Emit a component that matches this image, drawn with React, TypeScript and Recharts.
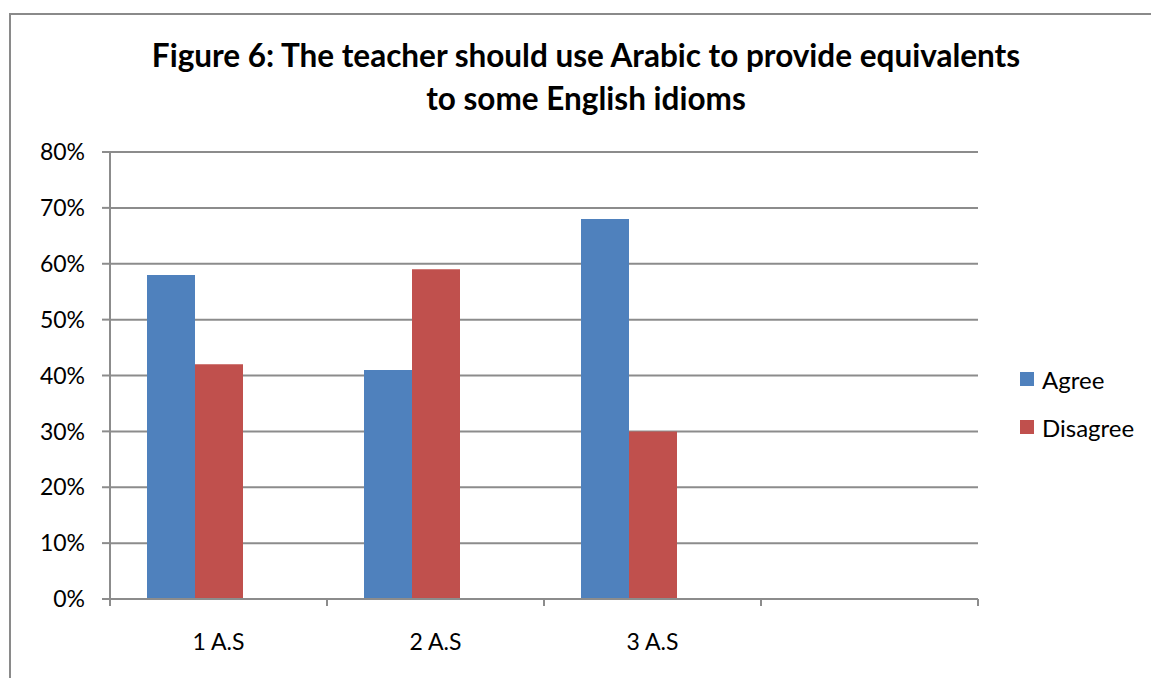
import React from 'react';
import { BarChart, Bar, XAxis, YAxis, CartesianGrid } from 'recharts';

// Chart values (percent)
const categories = ['1 A.S', '2 A.S', '3 A.S', ''];
const agree = [58, 41, 68, null];
const disagree = [42, 59, 30, null];
// third (empty) series keeps the original bar spacing
const blank = [null, null, null, null];
const yTicks = [0, 10, 20, 30, 40, 50, 60, 70, 80];

const seriesNames = ['Agree', 'Disagree'];
const seriesColors = ['#4f81bd', '#c0504d'];

const W = 1151;
const H = 678;
const PLOT_LEFT = 110;
const PLOT_RIGHT = 978;
const PLOT_TOP = 152;
const PLOT_BOTTOM = 599;
const HALF_BAND = (PLOT_RIGHT - PLOT_LEFT) / categories.length / 2;

const FONT = 'Lato, "Open Sans", sans-serif';
const GRID = '#8c8c8c';

const data = categories.map((c, i) => ({
  name: c,
  agree: agree[i],
  disagree: disagree[i],
  blank: blank[i],
}));

const XTick = (props: any) => {
  const { x, y, payload, index } = props;
  return (
    <g>
      <line x1={x - HALF_BAND} x2={x - HALF_BAND} y1={y} y2={y + 7} stroke={GRID} strokeWidth={2} />
      {index === categories.length - 1 && (
        <line x1={x + HALF_BAND} x2={x + HALF_BAND} y1={y} y2={y + 7} stroke={GRID} strokeWidth={2} />
      )}
      <text x={x} y={y + 51} textAnchor="middle" fontSize={23} fontFamily={FONT} fill="#000">
        {payload.value}
      </text>
    </g>
  );
};

export default function App() {
  return (
    <div style={{ position: 'absolute', left: 0, top: 0, width: W, height: H, overflow: 'hidden', background: '#fff' }}>
      <div
        style={{
          position: 'absolute',
          left: 9,
          top: 13,
          width: 1300,
          height: 800,
          border: '2px solid #8a8a8a',
        }}
      />
      <div
        style={{
          position: 'absolute',
          left: 0,
          top: 34,
          width: 1172,
          textAlign: 'center',
          fontFamily: FONT,
          fontWeight: 700,
          fontSize: 31.5,
          lineHeight: '42.5px',
          color: '#000',
        }}
      >
        Figure 6: The teacher should use Arabic to provide equivalents
        <br />
        to some English idioms
      </div>
      <div style={{ position: 'absolute', left: 0, top: 0 }}>
        <BarChart
          width={W}
          height={H}
          data={data}
          margin={{ top: PLOT_TOP, right: W - PLOT_RIGHT, bottom: H - PLOT_BOTTOM - 60, left: 0 }}
          barCategoryGap={37}
          barGap={0}
        >
          <CartesianGrid vertical={false} stroke={GRID} strokeWidth={2} />
          <XAxis
            dataKey="name"
            height={60}
            tick={<XTick />}
            tickLine={false}
            tickSize={0}
            tickMargin={0}
            axisLine={{ stroke: GRID, strokeWidth: 2 }}
            interval={0}
          />
          <YAxis
            width={PLOT_LEFT}
            domain={[0, 80]}
            ticks={yTicks}
            interval={0}
            tickSize={8}
            tickMargin={17}
            tickFormatter={(v) => `${v}%`}
            tick={{ fontSize: 23, fontFamily: FONT, fill: '#000' }}
            tickLine={{ stroke: GRID, strokeWidth: 2 }}
            axisLine={{ stroke: GRID, strokeWidth: 2 }}
          />
          <Bar dataKey="agree" fill={seriesColors[0]} isAnimationActive={false} />
          <Bar dataKey="disagree" fill={seriesColors[1]} isAnimationActive={false} />
          <Bar dataKey="blank" fill="#9bbb59" isAnimationActive={false} />
        </BarChart>
      </div>
      <div style={{ position: 'absolute', left: 1020, top: 364, fontFamily: FONT, fontSize: 24, color: '#000' }}>
        {seriesNames.map((n, i) => (
          <div key={n} style={{ display: 'flex', alignItems: 'center', height: 30, marginBottom: 18 }}>
            <span style={{ width: 14, height: 14, background: seriesColors[i], display: 'inline-block', marginRight: 8 }} />
            <span>{n}</span>
          </div>
        ))}
      </div>
    </div>
  );
}
